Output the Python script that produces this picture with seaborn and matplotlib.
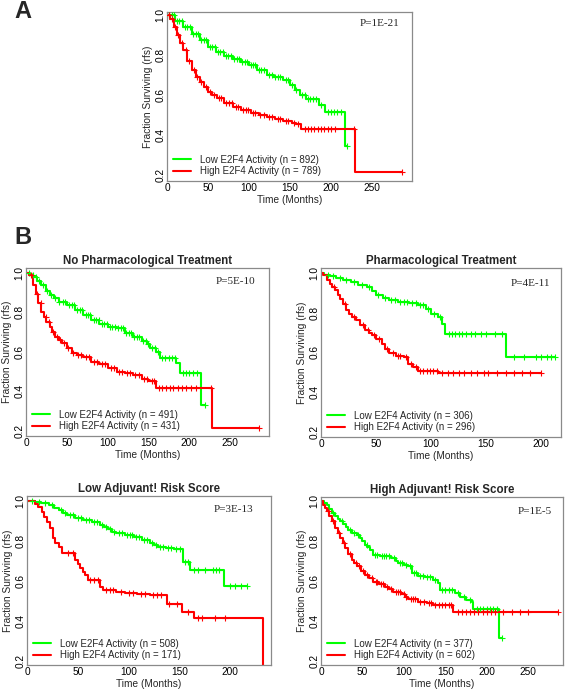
import numpy as np
import pandas as pd
import matplotlib
matplotlib.use("Agg")
import matplotlib.pyplot as plt
import seaborn as sns

sns.set_theme(style="white")
plt.rcParams['font.family'] = ['Liberation Sans', 'DejaVu Sans']

GREEN = "#00FF00"
RED = "#FF0000"

# ---------------- Panel A ----------------
a_low_t = [0, 10, 20, 30, 40, 50, 60, 70, 80, 90, 100, 110, 122, 130, 142, 150, 156, 162, 170, 186, 193, 217, 220]
a_low_s = [1.0, 0.97, 0.94, 0.905, 0.875, 0.84, 0.815, 0.795, 0.78, 0.765, 0.75, 0.725, 0.70, 0.69, 0.675, 0.65, 0.625, 0.60, 0.58, 0.55, 0.517, 0.347, 0.347]
a_low_c = [3, 6, 9, 12, 15, 18, 22, 25, 28, 32, 35, 38, 42, 45, 48, 52, 55, 58, 62, 65, 68, 72, 75, 78, 82, 85, 88, 92, 95, 98,
           102, 105, 108, 112, 115, 118, 125, 128, 132, 135, 138, 145, 148, 153, 158, 165, 168, 172, 175, 178, 182, 188,
           196, 200, 204, 208, 212, 220]
a_high_t = [0, 4, 8, 12, 16, 20, 25, 30, 35, 40, 45, 50, 55, 61, 70, 81, 90, 102, 112, 122, 132, 142, 152, 158, 164, 229, 287]
a_high_s = [1.0, 0.98, 0.94, 0.90, 0.86, 0.825, 0.77, 0.725, 0.69, 0.667, 0.64, 0.617, 0.598, 0.583, 0.56, 0.54, 0.525, 0.51,
            0.50, 0.49, 0.48, 0.47, 0.46, 0.455, 0.43, 0.217, 0.217]
a_high_c = [3, 6, 10, 14, 18, 23, 27, 33, 37, 42, 47, 52, 57, 63, 66, 72, 76, 79, 84, 87, 93, 96, 99, 105, 108, 114, 118,
            125, 128, 135, 138, 145, 148, 155, 160, 168, 172, 176, 180, 184, 188, 192, 196, 200, 205, 228, 287]

# ---------------- Panel B1: No Pharmacological Treatment ----------------
b1_low_t = [0, 5, 9, 14, 19, 24, 29, 34, 40, 50, 60, 70, 80, 90, 101, 111, 121, 131, 142, 148, 152, 160, 164, 184, 189, 215, 219]
b1_low_s = [1.0, 0.99, 0.98, 0.96, 0.938, 0.91, 0.887, 0.87, 0.853, 0.836, 0.81, 0.786, 0.76, 0.74, 0.727, 0.718, 0.693,
            0.673, 0.656, 0.64, 0.617, 0.60, 0.57, 0.541, 0.49, 0.33, 0.33]
b1_low_c = [4, 8, 12, 16, 21, 26, 31, 36, 41, 45, 48, 53, 56, 59, 63, 66, 69, 73, 76, 79, 83, 86, 89, 93, 96, 99, 103, 106,
            109, 113, 116, 119, 123, 126, 129, 133, 136, 139, 144, 147, 150, 155, 158, 162, 167, 171, 175, 179, 183, 192,
            196, 200, 205, 210, 219]
b1_high_t = [0, 4, 9, 12, 15, 19, 22, 25, 29, 32, 35.5, 40, 44, 50, 56, 62, 70, 80, 90, 101, 111, 121, 131, 142, 150, 160, 227.5, 286]
b1_high_s = [1.0, 0.99, 0.938, 0.89, 0.845, 0.80, 0.775, 0.752, 0.727, 0.70, 0.676, 0.658, 0.643, 0.617, 0.592, 0.583,
             0.572, 0.55, 0.538, 0.516, 0.499, 0.49, 0.482, 0.46, 0.453, 0.415, 0.212, 0.212]
b1_high_c = [6, 14, 18, 24, 28, 33, 38, 42, 47, 52, 58, 64, 68, 73, 77, 83, 87, 93, 97, 104, 108, 114, 118, 124, 128, 134,
             138, 145, 148, 154, 157, 163, 167, 172, 176, 180, 186, 191, 196, 202, 208, 227, 286]

# ---------------- Panel B2: Pharmacological Treatment ----------------
b2_low_t = [0, 3, 8, 14, 20, 27, 34, 42, 46, 50, 56, 62, 70, 80, 88, 95, 100, 106, 110, 113, 168, 213]
b2_low_s = [1.0, 0.99, 0.983, 0.975, 0.963, 0.955, 0.94, 0.93, 0.91, 0.887, 0.875, 0.862, 0.853, 0.848, 0.836, 0.82,
            0.794, 0.777, 0.744, 0.693, 0.575, 0.575]
b2_low_c = [6, 11, 17, 23, 30, 37, 44, 52, 58, 64, 67, 72, 75, 78, 83, 86, 90, 93, 97, 103, 108, 116, 119, 122, 125, 128,
            132, 136, 140, 145, 150, 158, 164, 175, 184, 195, 200, 205, 209, 213]
b2_high_t = [0, 2, 5, 8, 10, 13, 15, 17, 20, 23, 25, 28, 32, 35, 40, 44, 46, 50, 55, 58, 62, 68, 75, 79, 84, 88, 106, 200]
b2_high_s = [1.0, 0.99, 0.963, 0.945, 0.929, 0.912, 0.89, 0.87, 0.845, 0.81, 0.794, 0.777, 0.76, 0.735, 0.71, 0.695,
             0.685, 0.668, 0.643, 0.617, 0.595, 0.583, 0.575, 0.541, 0.524, 0.507, 0.494, 0.494]
b2_high_c = [12, 22, 30, 38, 43, 48, 53, 60, 65, 70, 72, 77, 82, 86, 90, 93, 96, 99, 102, 105, 110, 115, 120, 125, 130,
             136, 142, 148, 152, 160, 168, 175, 183, 190, 200]

# ---------------- Panel B3: Low Adjuvant! Risk Score ----------------
b3_low_t = [0, 8, 14, 22, 27, 31, 35, 39, 47, 55, 64, 72, 76, 80, 84, 88, 96, 105, 113, 121, 125, 129, 137, 145, 153,
            160.6, 193.5, 216]
b3_low_s = [1.0, 0.995, 0.99, 0.979, 0.965, 0.954, 0.94, 0.929, 0.912, 0.904, 0.895, 0.879, 0.868, 0.857, 0.845, 0.837,
            0.829, 0.817, 0.804, 0.787, 0.777, 0.767, 0.762, 0.757, 0.696, 0.654, 0.574, 0.574]
b3_low_c = [5, 12, 18, 25, 33, 37, 42, 45, 50, 53, 58, 61, 66, 69, 74, 78, 82, 86, 90, 93, 98, 101, 103, 107, 110, 115,
            118, 123, 127, 131, 134, 139, 142, 147, 150, 155, 158, 164, 168, 175, 183, 186, 189, 200, 205, 210, 216]
b3_high_t = [0, 8, 11, 14.5, 17, 19.4, 22.7, 26, 28, 31, 34, 47, 50, 52, 55, 57, 60, 72, 75, 88, 96, 108, 121, 137.6,
             152.4, 164, 232]
b3_high_s = [1.0, 0.985, 0.97, 0.945, 0.92, 0.895, 0.862, 0.812, 0.79, 0.77, 0.737, 0.704, 0.685, 0.662, 0.645, 0.629,
             0.604, 0.571, 0.554, 0.546, 0.537, 0.533, 0.529, 0.482, 0.445, 0.412, 0.0]
b3_high_c = [40, 45, 62, 66, 70, 78, 82, 85, 92, 100, 104, 112, 116, 124, 128, 132, 140, 148, 158, 168, 172, 185, 195]

# ---------------- Panel B4: High Adjuvant! Risk Score ----------------
b4_low_t = [0, 4, 7, 10, 13, 17, 20, 23, 27, 30, 33, 37, 43, 47, 50, 53, 56, 59, 63, 71, 85, 90, 93, 100, 105, 109.5,
            117.5, 125, 135.6, 141.7, 143.7, 161.8, 167.9, 175, 182, 184, 214.3, 218]
b4_low_s = [1.0, 0.99, 0.98, 0.96, 0.942, 0.925, 0.912, 0.90, 0.888, 0.872, 0.858, 0.841, 0.832, 0.816, 0.80, 0.782,
            0.77, 0.757, 0.732, 0.724, 0.715, 0.70, 0.69, 0.68, 0.673, 0.64, 0.626, 0.62, 0.603, 0.589, 0.556, 0.539,
            0.519, 0.505, 0.497, 0.459, 0.313, 0.313]
b4_low_c = [15, 25, 35, 40, 45, 55, 65, 68, 73, 76, 79, 82, 88, 95, 98, 102, 107, 112, 115, 120, 123, 128, 132, 138, 146,
            150, 155, 158, 165, 172, 180, 188, 192, 196, 200, 204, 208, 212, 218]
b4_high_t = [0, 3, 5, 7, 10, 13, 17, 20, 23, 26, 29, 33, 37, 40, 43, 48, 53, 58, 63, 70, 77, 82, 87, 97, 101, 105.5,
             117.5, 127.6, 135.6, 159.8, 286]
b4_high_s = [1.0, 0.98, 0.965, 0.95, 0.925, 0.90, 0.866, 0.84, 0.816, 0.79, 0.766, 0.735, 0.707, 0.69, 0.673, 0.65,
             0.631, 0.613, 0.597, 0.585, 0.572, 0.56, 0.547, 0.536, 0.52, 0.509, 0.497, 0.489, 0.48, 0.444, 0.444]
b4_high_c = [8, 15, 22, 28, 35, 42, 46, 51, 56, 61, 66, 68, 72, 75, 80, 85, 90, 93, 95, 100, 103, 108, 111, 114, 120,
             124, 130, 133, 138, 142, 146, 150, 154, 157, 165, 170, 175, 180, 185, 190, 195, 200, 205, 210, 220, 230,
             240, 250, 286]

titles = ["", "No Pharmacological Treatment", "Pharmacological Treatment",
          "Low Adjuvant! Risk Score", "High Adjuvant! Risk Score"]
p_values = ["P=1E-21", "P=5E-10", "P=4E-11", "P=3E-13", "P=1E-5"]
n_low = [892, 491, 306, 508, 377]
n_high = [789, 431, 296, 171, 602]
y_ticks = [0.2, 0.4, 0.6, 0.8, 1.0]
x_ticks_list = [[0, 50, 100, 150, 200, 250], [0, 50, 100, 150, 200, 250], [0, 50, 100, 150, 200],
                [0, 50, 100, 150, 200], [0, 50, 100, 150, 200, 250]]

W, H = 567, 689
fig = plt.figure(figsize=(W / 100, H / 100), dpi=100)


def px_axes(left, top, right, bottom):
    return fig.add_axes([left / W, 1 - bottom / H, (right - left) / W, (bottom - top) / H])


boxes = [(167, 12, 412, 181), (26, 268, 269, 436), (321, 268, 561, 437), (27, 496, 271, 665), (321, 497, 563, 665)]
xlims = [(0, 299), (0, 298), (0, 218), (0, 240), (0, 292)]
ylims = [(0.17, 1.015), (0.173, 1.024), (0.173, 1.024), (0.1785, 1.0235), (0.178, 1.022)]
pinset = [(13, 12), (14, 14), (11, 15), (18, 14), (11, 14)]

curves = [
    (a_low_t, a_low_s, a_low_c, a_high_t, a_high_s, a_high_c),
    (b1_low_t, b1_low_s, b1_low_c, b1_high_t, b1_high_s, b1_high_c),
    (b2_low_t, b2_low_s, b2_low_c, b2_high_t, b2_high_s, b2_high_c),
    (b3_low_t, b3_low_s, b3_low_c, b3_high_t, b3_high_s, b3_high_c),
    (b4_low_t, b4_low_s, b4_low_c, b4_high_t, b4_high_s, b4_high_c),
]


def censor_y(t, s, c):
    t = np.asarray(t, float)
    s = np.asarray(s, float)
    idx = np.searchsorted(t, np.asarray(c, float), side="right") - 1
    return s[np.clip(idx, 0, len(s) - 1)]


for i, box in enumerate(boxes):
    ax = px_axes(*box)
    lt, ls, lc, ht, hs, hc = curves[i]
    sns.lineplot(x=lt, y=ls, ax=ax, color=GREEN, lw=1.5, drawstyle="steps-post", estimator=None, sort=False,
                 label=f"Low E2F4 Activity (n = {n_low[i]})")
    sns.lineplot(x=ht, y=hs, ax=ax, color=RED, lw=1.5, drawstyle="steps-post", estimator=None, sort=False,
                 label=f"High E2F4 Activity (n = {n_high[i]})")
    ax.scatter(lc, censor_y(lt, ls, lc), marker="+", color=GREEN, s=18, linewidths=0.8, zorder=3)
    ax.scatter(hc, censor_y(ht, hs, hc), marker="+", color=RED, s=18, linewidths=0.8, zorder=3)
    ax.set_xlim(*xlims[i])
    ax.set_ylim(*ylims[i])
    ax.set_xticks(x_ticks_list[i])
    ax.set_xticklabels([str(v) for v in x_ticks_list[i]])
    ax.set_yticks(y_ticks)
    ax.set_yticklabels([f"{v:.1f}" for v in y_ticks], rotation=90, va="center")
    ax.tick_params(length=0, pad=1.2, labelsize=7.3, colors="black")
    for sp in ax.spines.values():
        sp.set_color("#8a8a8a")
        sp.set_linewidth(0.9)
    ax.set_xlabel("Time (Months)", fontsize=7.3, labelpad=1.5)
    ax.set_ylabel("Fraction Surviving (rfs)", fontsize=7.3, labelpad=2)
    if titles[i]:
        ax.set_title(titles[i], fontsize=8.3, fontweight="bold", pad=3)
    wpx = box[2] - box[0]
    hpx = box[3] - box[1]
    ax.text(1 - pinset[i][0] / wpx, 1 - pinset[i][1] / hpx, p_values[i], transform=ax.transAxes,
            ha="right", va="center", fontsize=8, family=["Liberation Serif", "DejaVu Serif"])
    ax.legend(loc="lower left", bbox_to_anchor=(6 / wpx, 5 / hpx), frameon=False, fontsize=7,
              handlelength=1.85, handletextpad=0.9, labelspacing=0.12, borderaxespad=0, borderpad=0)

fig.text(23 / W, 1 - 12 / H, "A", fontsize=17, fontweight="bold", ha="center", va="center")
fig.text(23 / W, 1 - 238 / H, "B", fontsize=17, fontweight="bold", ha="center", va="center")

fig.savefig("out.png", dpi=100, facecolor="white")
